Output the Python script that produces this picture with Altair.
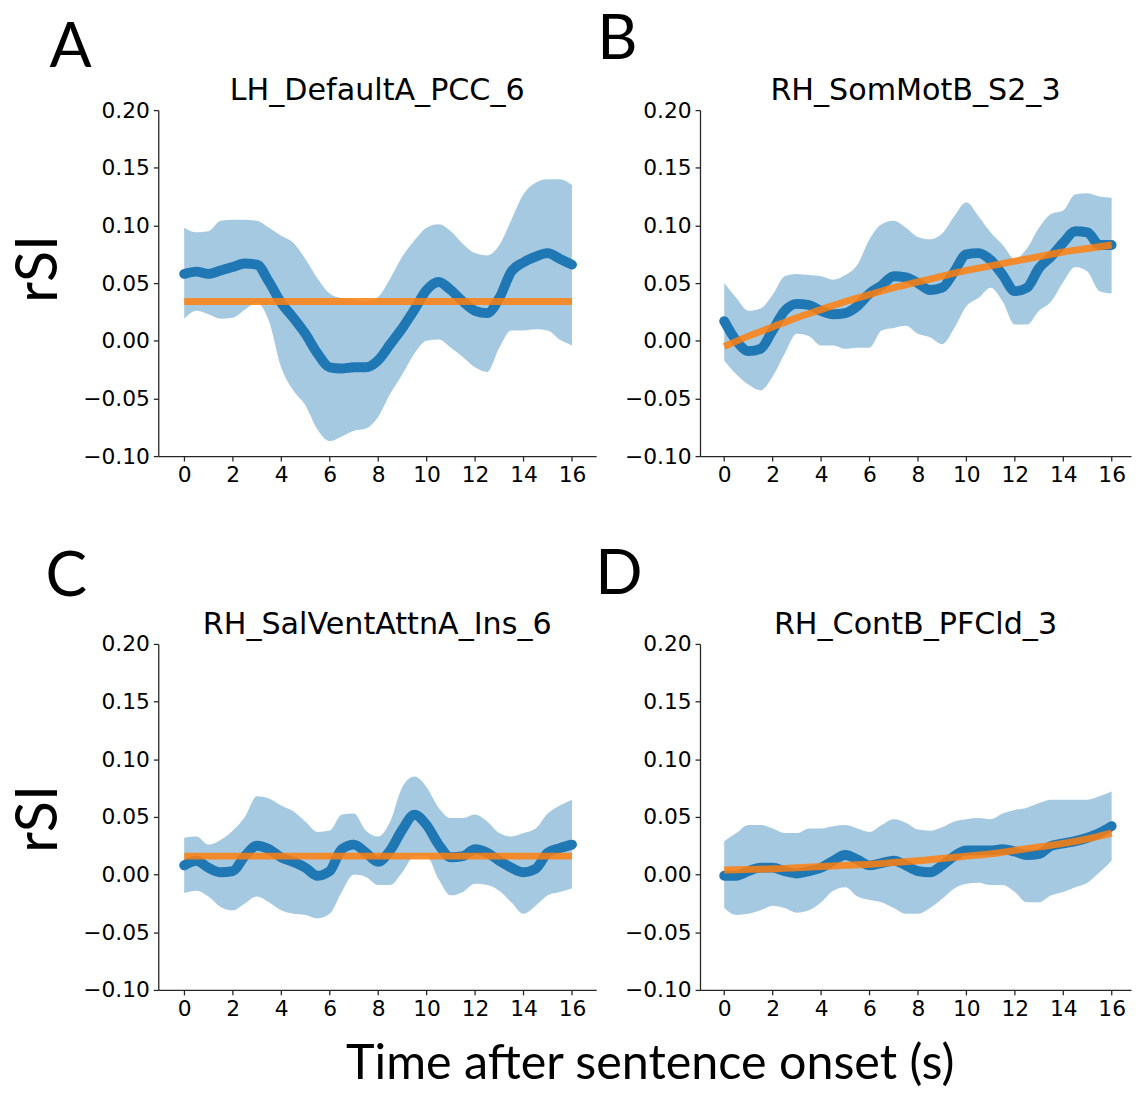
import altair as alt
import pandas as pd

times = [0, 0.5, 1, 1.5, 2, 2.5, 3, 3.5, 4, 4.5, 5, 5.5, 6, 6.5, 7, 7.5, 8,
         8.5, 9, 9.5, 10, 10.5, 11, 11.5, 12, 12.5, 13, 13.5, 14, 14.5, 15, 15.5, 16]

titles = ["LH_DefaultA_PCC_6", "RH_SomMotB_S2_3", "RH_SalVentAttnA_Ins_6", "RH_ContB_PFCld_3"]
letters = ["A", "B", "C", "D"]

# Panel A
a_mean = [0.058, 0.060, 0.058, 0.061, 0.064, 0.067, 0.066, 0.051, 0.033, 0.020, 0.006, -0.011, -0.023,
          -0.024, -0.023, -0.023, -0.017, -0.003, 0.011, 0.027, 0.044, 0.051, 0.044, 0.034, 0.026,
          0.024, 0.037, 0.060, 0.068, 0.073, 0.076, 0.071, 0.066]
a_hi = [0.098, 0.094, 0.095, 0.104, 0.105, 0.105, 0.104, 0.098, 0.091, 0.085, 0.071, 0.054, 0.041,
        0.037, 0.036, 0.034, 0.038, 0.054, 0.073, 0.087, 0.098, 0.101, 0.095, 0.084, 0.076,
        0.074, 0.083, 0.105, 0.127, 0.137, 0.140, 0.140, 0.135]
a_lo = [0.019, 0.026, 0.023, 0.019, 0.020, 0.027, 0.033, 0.017, -0.023, -0.043, -0.056, -0.077, -0.087,
        -0.083, -0.078, -0.076, -0.066, -0.046, -0.029, -0.011, 0.000, 0.001, -0.006, -0.014, -0.023,
        -0.027, -0.006, 0.009, 0.009, 0.010, 0.009, 0.001, -0.004]
a_fit_t = [0, 16]
a_fit = [0.034, 0.034]

# Panel B
b_mean = [0.017, 0.000, -0.009, -0.007, 0.009, 0.026, 0.032, 0.031, 0.026, 0.023, 0.024, 0.030, 0.041,
          0.048, 0.056, 0.055, 0.050, 0.044, 0.046, 0.060, 0.075, 0.076, 0.070, 0.057, 0.043,
          0.046, 0.063, 0.073, 0.085, 0.095, 0.094, 0.083, 0.083]
b_hi = [0.050, 0.037, 0.026, 0.028, 0.040, 0.056, 0.058, 0.057, 0.056, 0.053, 0.057, 0.066, 0.088,
        0.101, 0.104, 0.098, 0.090, 0.088, 0.093, 0.108, 0.120, 0.108, 0.094, 0.083, 0.071,
        0.080, 0.098, 0.110, 0.113, 0.127, 0.128, 0.125, 0.124]
b_lo = [-0.017, -0.029, -0.038, -0.043, -0.031, -0.011, 0.006, 0.004, -0.004, -0.004, -0.007, -0.006, -0.006,
        0.009, 0.011, 0.013, 0.006, 0.003, -0.003, 0.011, 0.030, 0.037, 0.046, 0.034, 0.014,
        0.014, 0.026, 0.034, 0.051, 0.064, 0.060, 0.043, 0.041]
b_fit_t = [0, 1, 2, 3, 4, 5, 6, 7, 8, 9, 10, 11, 12, 13, 14, 15, 16]
b_fit = [-0.005, 0.004, 0.012, 0.020, 0.027, 0.034, 0.040, 0.046, 0.051, 0.056, 0.061, 0.065, 0.069,
         0.073, 0.077, 0.080, 0.083]

# Panel C
c_mean = [0.008, 0.012, 0.006, 0.002, 0.003, 0.016, 0.025, 0.022, 0.015, 0.011, 0.006, -0.001, 0.003,
          0.022, 0.026, 0.019, 0.011, 0.021, 0.039, 0.052, 0.043, 0.026, 0.015, 0.016, 0.022,
          0.019, 0.012, 0.006, 0.002, 0.005, 0.019, 0.023, 0.026]
c_hi = [0.032, 0.033, 0.026, 0.030, 0.038, 0.050, 0.068, 0.066, 0.060, 0.055, 0.046, 0.037, 0.038,
        0.052, 0.053, 0.038, 0.033, 0.046, 0.076, 0.085, 0.076, 0.058, 0.049, 0.049, 0.052,
        0.046, 0.036, 0.033, 0.036, 0.040, 0.053, 0.060, 0.065]
c_lo = [-0.016, -0.014, -0.019, -0.028, -0.031, -0.025, -0.019, -0.024, -0.031, -0.034, -0.035, -0.038, -0.034,
        -0.015, 0.000, -0.002, -0.009, -0.009, 0.002, 0.016, 0.016, -0.004, -0.018, -0.015, -0.008,
        -0.009, -0.014, -0.024, -0.034, -0.027, -0.018, -0.015, -0.012]
c_fit_t = [0, 16]
c_fit = [0.016, 0.016]

# Panel D
d_mean = [-0.001, -0.001, 0.003, 0.006, 0.006, 0.003, 0.001, 0.003, 0.006, 0.012, 0.017, 0.013, 0.008,
          0.010, 0.012, 0.008, 0.003, 0.002, 0.008, 0.016, 0.021, 0.021, 0.021, 0.022, 0.020,
          0.017, 0.018, 0.025, 0.027, 0.029, 0.032, 0.036, 0.042]
d_hi = [0.029, 0.036, 0.043, 0.043, 0.040, 0.036, 0.036, 0.040, 0.040, 0.042, 0.043, 0.040, 0.037,
        0.043, 0.048, 0.045, 0.039, 0.038, 0.041, 0.046, 0.048, 0.049, 0.048, 0.053, 0.056,
        0.058, 0.062, 0.065, 0.065, 0.065, 0.065, 0.068, 0.072]
d_lo = [-0.029, -0.035, -0.034, -0.031, -0.027, -0.029, -0.033, -0.031, -0.024, -0.014, -0.011, -0.019, -0.022,
        -0.024, -0.029, -0.034, -0.034, -0.029, -0.021, -0.012, -0.008, -0.007, -0.009, -0.009, -0.015,
        -0.024, -0.024, -0.018, -0.015, -0.011, -0.007, 0.002, 0.012]
d_fit_t = [0, 1, 2, 3, 4, 5, 6, 7, 8, 9, 10, 11, 12, 13, 14, 15, 16]
d_fit = [0.004, 0.0045, 0.005, 0.006, 0.007, 0.008, 0.009, 0.0105, 0.012, 0.014, 0.016, 0.018, 0.021,
         0.024, 0.027, 0.031, 0.036]

x_ticks = [0, 2, 4, 6, 8, 10, 12, 14, 16]
y_ticks = [-0.10, -0.05, 0.00, 0.05, 0.10, 0.15, 0.20]

BLUE = "#1f77b4"
ORANGE = "#ff7f0e"
PX_PER_UNIT = 24.5
PLOT_H = 350


def panel(idx, mean, lo, hi, fit_t, fit, xmin, xmax, letter_pos, ylabel_y=None, xlabel=False):
    width = round((xmax - xmin) * PX_PER_UNIT)
    df = pd.DataFrame({"t": times, "mean": mean, "lo": lo, "hi": hi})
    fdf = pd.DataFrame({"t": fit_t, "fit": fit})
    xs = alt.Scale(domain=[xmin, xmax], nice=False, zero=False)
    ys = alt.Scale(domain=[-0.1, 0.2], nice=False, zero=False)
    xaxis = alt.Axis(values=x_ticks, format="d")
    yaxis = alt.Axis(values=y_ticks, format=".2f")
    base = alt.Chart(df)
    band = base.mark_area(color=BLUE, opacity=0.4, interpolate="monotone").encode(
        x=alt.X("t:Q", scale=xs, axis=xaxis, title=None),
        y=alt.Y("lo:Q", scale=ys, axis=yaxis, title=None),
        y2="hi:Q",
    )
    line = base.mark_line(color=BLUE, strokeWidth=10, strokeCap="round", interpolate="monotone").encode(
        x="t:Q", y="mean:Q"
    )
    fitl = alt.Chart(fdf).mark_line(color=ORANGE, strokeWidth=7, opacity=0.85, interpolate="monotone").encode(
        x="t:Q", y="fit:Q"
    )
    ann = pd.DataFrame({"s": [letters[idx]]})
    letter = alt.Chart(ann).mark_text(
        font="Lato", fontSize=63, align="left", baseline="alphabetic", color="black"
    ).encode(text="s:N", x=alt.value(letter_pos[0]), y=alt.value(letter_pos[1]))
    tdf = pd.DataFrame({"s": [titles[idx]]})
    ttl = alt.Chart(tdf).mark_text(
        font="DejaVu Sans", fontSize=30.5, align="center", baseline="alphabetic", color="black"
    ).encode(text="s:N", x=alt.value(width / 2), y=alt.value(-10))
    layers = [band, line, fitl, letter, ttl]
    if ylabel_y is not None:
        ydf = pd.DataFrame({"s": ["rSI"]})
        layers.append(alt.Chart(ydf).mark_text(
            font="Lato", fontSize=58, align="center", baseline="middle", angle=270, color="black"
        ).encode(text="s:N", x=alt.value(-119.5), y=alt.value(ylabel_y)))
    if xlabel:
        xdf = pd.DataFrame({"s": ["Time after sentence onset (s)"]})
        layers.append(alt.Chart(xdf).mark_text(
            font="Lato", fontSize=49, align="left", baseline="alphabetic", color="black"
        ).encode(text="s:N", x=alt.value(190), y=alt.value(440)))
    return alt.layer(*layers).properties(width=width, height=PLOT_H)


pA = panel(0, a_mean, a_lo, a_hi, a_fit_t, a_fit, -1.07, 17.0, (-110, -44), ylabel_y=160.5)
pB = panel(1, b_mean, b_lo, b_hi, b_fit_t, b_fit, -1.0, 16.8, (-104, -52))
pC = panel(2, c_mean, c_lo, c_hi, c_fit_t, c_fit, -1.07, 17.0, (-114, -48), ylabel_y=177, xlabel=True)
pD = panel(3, d_mean, d_lo, d_hi, d_fit_t, d_fit, -1.0, 16.8, (-106, -51))

chart = alt.concat(
    pA, pB, pC, pD, columns=2, spacing={"row": 190, "column": 105}, bounds="flush"
).properties(
    padding={"left": 3, "top": -5, "right": 0, "bottom": 0}
).configure_view(strokeWidth=0).configure_axis(
    grid=False,
    domainColor="#262626",
    domainWidth=1.3,
    tickColor="#262626",
    tickWidth=1.3,
    tickSize=5,
    labelFont="DejaVu Sans",
    labelFontSize=22,
    labelColor="black",
    labelPadding=4,
)

chart.save("out.html", embed_options={"renderer": "svg", "actions": False})
